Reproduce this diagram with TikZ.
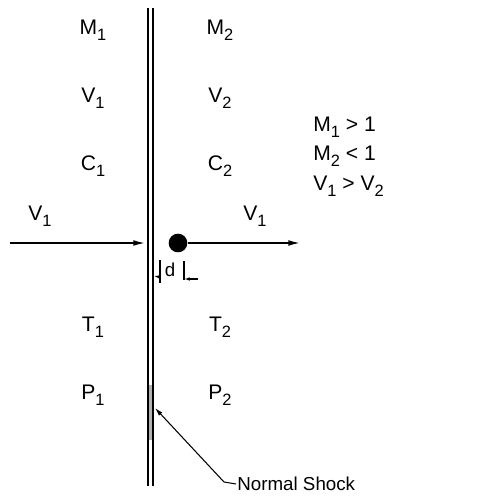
\documentclass[tikz,border=0pt]{standalone}
\usepackage{fontspec}
\setmainfont{Liberation Sans}
\usetikzlibrary{arrows.meta, positioning}
\newcommand{\indice}[1]{\raisebox{-0.55ex}{\fontsize{14}{15}\selectfont #1}}

\begin{document}
\begin{tikzpicture}[
			x=0.03cm, y=-0.03cm,
			% Styles
			etat/.style={font=\fontsize{18}{21}\selectfont, inner sep=1pt},
			fleche/.style={-{Latex[length=10pt, width=5pt]}, line width=1.3pt},
			cote/.style={-{Latex[length=5pt, width=3pt]}, line width=0.9pt},
			trait/.style={line width=0.9pt},
			choc/.style={line width=1.5pt},
			]
			\useasboundingbox (0,0) rectangle (488,504);
			
			% onde de choc
			\fill[gray!60] (148,385) rectangle (153,440);
			\draw[choc] (148,8) -- (148,486);
			\draw[choc] (153,8) -- (153,486);
			\coordinate (chocG) at (145,243);
			\coordinate (chocD) at (153.8,276);
			\coordinate (chocBas) at (155,408);
			
			% amont
			\node[etat] (M1) at (93,30) {M\indice{1}};
			\node[etat] (V1) at (93,98) {V\indice{1}};
			\node[etat] (C1) at (93,166) {C\indice{1}};
			\node[etat] (T1) at (93,327) {T\indice{1}};
			\node[etat] (P1) at (93,395) {P\indice{1}};
			
			% aval
			\node[etat] (M2) at (220,30) {M\indice{2}};
			\node[etat] (V2) at (220,98) {V\indice{2}};
			\node[etat] (C2) at (220,166) {C\indice{2}};
			\node[etat] (T2) at (220,327) {T\indice{2}};
			\node[etat] (P2) at (220,395) {P\indice{2}};
			
			% vitesses
			\node[etat] (vitG) at (40,216) {V\indice{1}};
			\coordinate (depG) at (10,243);
			\draw[fleche] (depG) -- (chocG);
			
			\node[circle, fill=black, minimum size=0.56cm, inner sep=0pt] (particule) at (178,243) {};
			\node[etat] (vitD) at (255,216) {V\indice{1}};
			\coordinate (finD) at (300,243);
			\draw[fleche] (particule.east) -- (finD);
			
			% distance d
			\coordinate (repG) at (160,277);
			\coordinate (repD) at (184,279);
			\coordinate (queueD) at (198,279);
			\draw[trait] (160,260) -- (160,283);
			\draw[trait] (184,261) -- (184,280);
			\draw[cote] (repG) -- (chocD);
			\draw[cote] (queueD) -- (repD);
			\node[etat, font=\fontsize{16}{18}\selectfont] (dist) at (170,270) {d};
			
			% conditions
			\node[etat, anchor=west] (condA) at (312,127) {M\indice{1} > 1};
			\node[etat, anchor=west] (condB) at (312,156) {M\indice{2} < 1};
			\node[etat, anchor=west] (condC) at (312,186) {V\indice{1} > V\indice{2}};
			
			% legende
			\node[etat, anchor=west, font=\fontsize{16}{18}\selectfont] (legende) at (236,484) {Normal Shock};
			\coordinate (coude) at (224,482);
			\draw[trait, -{Latex[length=7pt, width=4pt]}] (legende.west) -- (coude) -- (chocBas);
		\end{tikzpicture}
\end{document}
